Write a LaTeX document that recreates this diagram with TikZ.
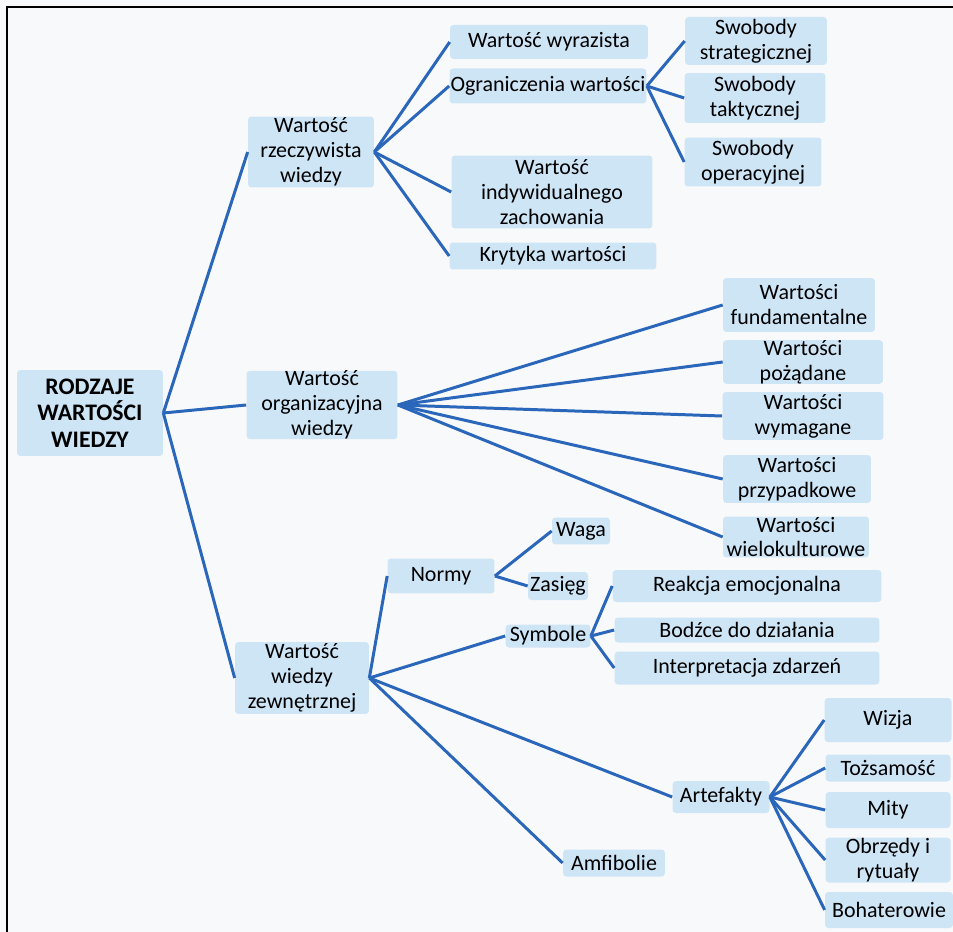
\documentclass[tikz,border=0pt]{standalone}
\usepackage{fontspec}
\setmainfont{Carlito}
\definecolor{boxblue}{RGB}{206,229,246}
\definecolor{linkblue}{RGB}{42,102,186}
\definecolor{paper}{RGB}{248,249,251}
\tikzset{
  box/.style={fill=boxblue,rounded corners=2pt,align=center,inner sep=0pt,
    font=\fontsize{12.5}{14.2}\selectfont},
  link/.style={draw=linkblue,line width=1.7pt}
}

\begin{document}
\begin{tikzpicture}[x=0.02cm,y=-0.02cm]
 \useasboundingbox (0,0) rectangle (953,932);
 \fill[paper] (0,0) rectangle (953,932);
 %\draw[help lines] (0,0) grid (953,932);
 \draw[line width=1.1pt] (7,932) -- (7,7) -- (953,7);

%%%%%%%%%%%%%%%%%%%%%%%% root and first level
\node[box,minimum width=2.92cm,minimum height=1.72cm,font=\fontsize{13.5}{15}\selectfont\bfseries] (root) at (90,413) {RODZAJE\\WARTOŚCI\\WIEDZY};
\node[box,minimum width=2.52cm,minimum height=1.42cm] (rzecz) at (311,152) {Wartość\\rzeczywista\\wiedzy};
\node[box,minimum width=3.02cm,minimum height=1.32cm] (org) at (322,405) {Wartość\\organizacyjna\\wiedzy};
\node[box,minimum width=2.68cm,minimum height=1.44cm] (zewn) at (302,678) {Wartość\\wiedzy\\zewnętrznej};

%%%%%%%%%%%%%%%%%%%%%%%% rzeczywista
\node[box,minimum width=3.96cm,minimum height=0.68cm] (wyraz) at (549,42) {Wartość wyrazista};
\node[box,minimum width=3.94cm,minimum height=0.70cm] (ogran) at (548,86) {Ograniczenia wartości};
\node[box,minimum width=4.02cm,minimum height=1.46cm] (indyw) at (552,192) {Wartość\\indywidualnego\\zachowania};
\node[box,minimum width=4.14cm,minimum height=0.54cm] (kryt) at (553,256) {Krytyka wartości};

\node[box,minimum width=2.84cm,minimum height=0.96cm] (strat) at (756,41) {Swobody\\strategicznej};
\node[box,minimum width=2.82cm,minimum height=1.00cm] (takt) at (755,98) {Swobody\\taktycznej};
\node[box,minimum width=2.74cm,minimum height=0.98cm] (oper) at (753,162) {Swobody\\operacyjnej};

%%%%%%%%%%%%%%%%%%%%%%%% organizacyjna
\node[box,minimum width=3.04cm,minimum height=1.08cm] (fund) at (799,305) {Wartości\\fundamentalne};
\node[box,minimum width=3.20cm,minimum height=0.78cm] (pozad) at (803,362) {Wartości\\pożądane};
\node[box,minimum width=3.22cm,minimum height=0.96cm] (wymag) at (803,416) {Wartości\\wymagane};
\node[box,minimum width=2.96cm,minimum height=0.96cm] (przyp) at (797,479) {Wartości\\przypadkowe};
\node[box,minimum width=2.92cm,minimum height=0.82cm] (wielo) at (796,537) {Wartości\\wielokulturowe};

%%%%%%%%%%%%%%%%%%%%%%%% zewnetrznej
\node[box,minimum width=2.14cm,minimum height=0.70cm] (normy) at (441,576) {Normy};
\node[box,minimum width=1.16cm,minimum height=0.54cm] (waga) at (581,531) {Waga};
\node[box,minimum width=1.20cm,minimum height=0.56cm] (zasieg) at (558,586) {Zasięg};
\node[box,minimum width=1.70cm,minimum height=0.46cm] (symb) at (548,636) {Symbole};
\node[box,minimum width=5.38cm,minimum height=0.64cm] (reakc) at (747,586) {Reakcja emocjonalna};
\node[box,minimum width=5.30cm,minimum height=0.50cm] (bodz) at (747,630) {Bodźce do działania};
\node[box,minimum width=5.30cm,minimum height=0.66cm] (interp) at (747,668) {Interpretacja zdarzeń};
\node[box,minimum width=1.94cm,minimum height=0.64cm] (artef) at (721,797) {Artefakty};
\node[box,minimum width=2.04cm,minimum height=0.54cm] (amfib) at (614,863) {Amfibolie};

\node[box,minimum width=2.54cm,minimum height=0.88cm] (wizja) at (888,720) {Wizja};
\node[box,minimum width=2.50cm,minimum height=0.54cm] (toz) at (888,768) {Tożsamość};
\node[box,minimum width=2.50cm,minimum height=0.72cm] (mity) at (888,810) {Mity};
\node[box,minimum width=2.50cm,minimum height=0.90cm] (obrz) at (888,860) {Obrzędy i\\rytuały};
\node[box,minimum width=2.56cm,minimum height=0.72cm] (boh) at (889,910) {Bohaterowie};

%%%%%%%%%%%%%%%%%%%%%%%% links
\foreach \n in {rzecz,org,zewn}{
   \draw[link] (root.east) -- (\n.west);
}
\foreach \n in {wyraz,ogran,indyw,kryt}{
   \draw[link] (rzecz.east) -- (\n.west);
}
\foreach \n in {strat,takt,oper}{
   \draw[link] (ogran.east) -- (\n.west);
}
\foreach \n in {fund,pozad,wymag,przyp,wielo}{
   \draw[link] (org.east) -- (\n.west);
}
\foreach \n in {normy,symb,artef,amfib}{
   \draw[link] (zewn.east) -- (\n.west);
}
\foreach \n in {waga,zasieg}{
   \draw[link] (normy.east) -- (\n.west);
}
\foreach \n in {reakc,bodz,interp}{
   \draw[link] (symb.east) -- (\n.west);
}
\foreach \n in {wizja,toz,mity,obrz,boh}{
   \draw[link] (artef.east) -- (\n.west);
}

\end{tikzpicture}
\end{document}
